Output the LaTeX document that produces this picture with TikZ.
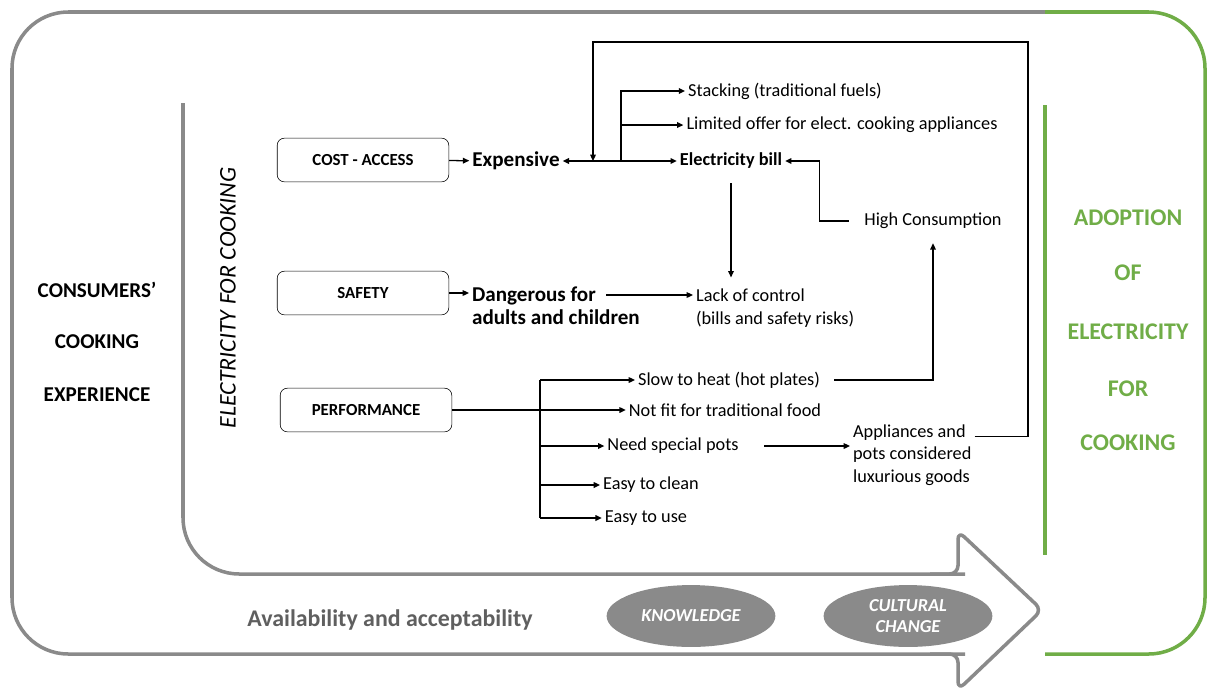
\documentclass[tikz,border=0pt]{standalone}
\usepackage{fontspec}
\setmainfont{Carlito}
\usetikzlibrary{arrows.meta,shapes.geometric}
\definecolor{framegray}{RGB}{138,138,138}
\definecolor{adoptgreen}{RGB}{112,173,71}
\definecolor{labelgray}{RGB}{95,95,95}
\tikzset{
  catbox/.style={draw, rounded corners=5pt, minimum width=122pt, minimum height=31pt, font=\fontsize{12}{14}\selectfont\bfseries},
  item/.style={font=\fontsize{13}{16}\selectfont, inner sep=2pt},
  hitem/.style={font=\fontsize{15}{16.5}\selectfont\bfseries, inner sep=2pt},
  side/.style={font=\fontsize{15}{18}\selectfont\bfseries},
  adopt/.style={font=\fontsize{17}{20}\selectfont\bfseries, text=adoptgreen},
  factor/.style={ellipse, fill=framegray, text=white, minimum width=120pt, minimum height=44pt, inner sep=0pt, align=center, font=\fontsize{13}{15}\selectfont\bfseries\itshape},
  frame/.style={draw=framegray, line width=2.5pt, line join=round},
  link/.style={->, line width=0.9pt},
  mainlink/.style={->, line width=1.6pt},
}
\begin{document}
\begin{tikzpicture}[x=0.025cm, y=-0.025cm, >={Triangle[length=4.5pt,width=4pt]}]
\useasboundingbox (0,0) rectangle (1210,693);

\draw[frame, rounded corners=40pt] (1045,12) -- (12,12) -- (12,654) -- (965,654);
\draw[frame, draw=adoptgreen, rounded corners=40pt] (1045,12) -- (1205,12) -- (1205,654) -- (1045,654);
\draw[frame, rounded corners=40pt] (183,103) -- (183,574) -- (965,574);
\draw[frame, rounded corners=6pt] (930,574) -- (958,574) -- (958,531) -- (1042,610) -- (958,690) -- (958,654) -- (930,654);
\draw[adoptgreen, line width=2.5pt] (1045,105) -- (1045,555);

\node[side] (cons) at (97,290) {CONSUMERS’};
\node[side] (cook) at (97,342) {COOKING};
\node[side] (exper) at (97,395) {EXPERIENCE};
\node[rotate=90, font=\fontsize{17}{20}\selectfont\itshape] (elec) at (228,298) {ELECTRICITY FOR COOKING};

\node[catbox] (cost) at (363,160) {COST - ACCESS};
\node[catbox] (safety) at (363,293) {SAFETY};
\node[catbox] (perf) at (366,410) {PERFORMANCE};

\node[hitem] (expens) at (516,161) {Expensive};
\node[hitem, align=left, anchor=west] (danger) at (469,306) {Dangerous for\\adults and children};
\draw[link] (cost) -- (expens);
\draw[link] (safety) -- (safety -| danger.west);

\coordinate (jn) at (621,161);
\node[item] (stack) at (785,91) {Stacking (traditional fuels)};
\node[item] (limit) at (842,125) {Limited offer for elect. cooking appliances};
\node[item, font=\fontsize{13}{16}\selectfont\bfseries] (bill) at (731,161) {Electricity bill};
\draw[mainlink] (jn) -- (expens);
\draw[mainlink] (jn) |- (stack);
\draw[mainlink] (jn |- limit) -- (limit);
\draw[mainlink] (jn) -- (bill);

\node[item] (highcons) at (933,221) {High Consumption};
\node[item, align=left, anchor=west] (lack) at (693,308) {Lack of control\\(bills and safety risks)};
\draw[link, shorten <=9pt] (highcons.west) -- ++(-42,0) |- (bill);
\draw[link, shorten <=8pt, shorten >=6pt] (bill.south) -- (bill.south |- lack.north);
\coordinate (dg) at (606,295);
\draw[link] (dg) -- (dg -| lack.west);

\node[item] (slow) at (729,380) {Slow to heat (hot plates)};
\node[item] (notfit) at (725,410) {Not fit for traditional food};
\node[item] (pots) at (673,446) {Need special pots};
\node[item] (clean) at (651,485) {Easy to clean};
\node[item] (use) at (646,518) {Easy to use};
\node[item, align=left, anchor=west] (lux) at (850,455) {Appliances and\\pots considered\\luxurious goods};
\coordinate (pj) at (540,410);
\draw[link] (perf) -- (notfit);
\draw[line width=0.9pt] (pj |- slow) -- (pj |- use);
\draw[link] (pj |- slow) -- (slow);
\draw[link] (pj |- pots) -- (pots);
\draw[link] (pj |- clean) -- (clean);
\draw[link] (pj |- use) -- (use);
\draw[link, shorten <=16pt] (pots) -- (pots -| lux.west);
\draw[link, shorten <=8pt, shorten >=8pt] (slow.east) -| (highcons.south);

\coordinate (top) at (1028,42);
\coordinate (drop) at (593,161);
\draw[link] ([yshift=13pt]lux.east) -| (top) -| (drop);

\node[font=\fontsize{17}{20}\selectfont\bfseries, text=labelgray] (avail) at (390,620) {Availability and acceptability};
\node[factor] (know) at (691,616) {KNOWLEDGE};
\node[factor] (cult) at (908,616) {CULTURAL\\CHANGE};

\node[adopt] (ad1) at (1128,218) {ADOPTION};
\node[adopt] (ad2) at (1128,273) {OF};
\node[adopt] (ad3) at (1128,332) {ELECTRICITY};
\node[adopt] (ad4) at (1128,389) {FOR};
\node[adopt] (ad5) at (1128,443) {COOKING};
\end{tikzpicture}
\end{document}
